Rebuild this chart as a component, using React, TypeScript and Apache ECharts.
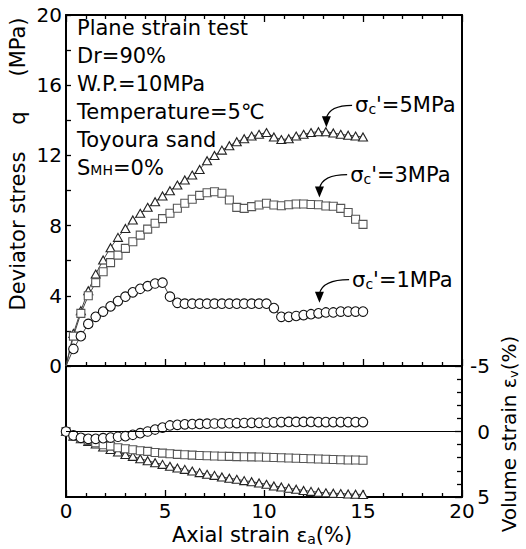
import React, { useEffect, useRef } from "react";
import * as echarts from "echarts";

// ---------- data ----------
const strain = [0, 0.375, 0.75, 1.125, 1.5, 1.875, 2.25, 2.625, 3, 3.375, 3.75, 4.125, 4.5, 4.875, 5.25, 5.625, 6, 6.375, 6.75, 7.125, 7.5, 7.875, 8.25, 8.625, 9, 9.375, 9.75, 10.125, 10.5, 10.875, 11.25, 11.625, 12, 12.375, 12.75, 13.125, 13.5, 13.875, 14.25, 14.625, 15];

const q1MPa = [0, 0.97, 1.7, 2.4, 2.8, 3.1, 3.4, 3.7, 3.95, 4.2, 4.4, 4.55, 4.7, 4.75, 3.95, 3.6, 3.55, 3.55, 3.55, 3.55, 3.55, 3.55, 3.55, 3.55, 3.55, 3.55, 3.55, 3.55, 3.3, 2.8, 2.8, 2.85, 2.9, 2.95, 3.0, 3.05, 3.05, 3.1, 3.1, 3.1, 3.1];
const q3MPa = [0, 1.7, 3.0, 4.0, 4.75, 5.37, 5.89, 6.32, 6.7, 7.08, 7.46, 7.8, 8.13, 8.4, 8.7, 8.99, 9.27, 9.5, 9.72, 9.87, 9.93, 9.84, 9.46, 9.04, 8.98, 9.08, 9.17, 9.27, 9.17, 9.13, 9.19, 9.23, 9.23, 9.2, 9.19, 9.12, 9.1, 8.98, 8.75, 8.36, 8.07];
const q5MPa = [0, 1.86, 3.15, 4.29, 5.24, 6.04, 6.74, 7.33, 7.84, 8.32, 8.7, 9.04, 9.36, 9.69, 9.99, 10.31, 10.6, 10.88, 11.2, 11.7, 12.0, 12.3, 12.55, 12.78, 12.95, 13.1, 13.2, 13.3, 13.05, 12.9, 12.95, 13.1, 13.2, 13.3, 13.35, 13.35, 13.28, 13.2, 13.15, 13.1, 13.05];

const ev1MPa = [0, 0.3, 0.48, 0.56, 0.56, 0.51, 0.46, 0.4, 0.36, 0.25, 0.13, 0, -0.15, -0.3, -0.46, -0.51, -0.55, -0.57, -0.58, -0.6, -0.61, -0.62, -0.63, -0.64, -0.65, -0.66, -0.66, -0.67, -0.7, -0.72, -0.73, -0.73, -0.73, -0.73, -0.72, -0.72, -0.72, -0.72, -0.72, -0.72, -0.72];
const ev3MPa = [0, 0.36, 0.51, 0.68, 0.86, 1.01, 1.12, 1.24, 1.32, 1.39, 1.47, 1.52, 1.6, 1.65, 1.7, 1.75, 1.78, 1.8, 1.83, 1.85, 1.87, 1.89, 1.9, 1.92, 1.93, 1.94, 1.95, 1.96, 1.98, 2.0, 2.02, 2.04, 2.06, 2.08, 2.1, 2.12, 2.14, 2.16, 2.17, 2.18, 2.2];
const ev5MPa = [0, 0.36, 0.56, 0.76, 0.96, 1.19, 1.37, 1.57, 1.75, 1.9, 2.08, 2.23, 2.38, 2.51, 2.66, 2.79, 2.89, 3.02, 3.14, 3.27, 3.35, 3.47, 3.57, 3.65, 3.75, 3.83, 3.93, 4.03, 4.16, 4.23, 4.33, 4.41, 4.5, 4.57, 4.63, 4.68, 4.71, 4.74, 4.77, 4.79, 4.81];

const confiningLabels = ["5MPa", "3MPa", "1MPa"];
const conditionLines = ["Plane strain test", "Dr=90%", "W.P.=10MPa", "Temperature=5℃", "Toyoura sand"];

// annotation anchors in data coordinates (text left, arrow tip)
const annTextAt = [[14.6, 14.85], [14.35, 10.9], [14.45, 4.92]];
const annTipAt = [[13.15, 13.6], [12.8, 9.6], [12.8, 3.6]];

// ---------- helpers ----------
const FAM = '"DejaVu Sans", sans-serif';
const measureCtx = typeof document !== "undefined" ? document.createElement("canvas").getContext("2d") : null;
function tw(t: string, size: number) {
  if (!measureCtx) return t.length * size * 0.6;
  measureCtx.font = `${size}px "DejaVu Sans"`;
  return measureCtx.measureText(t).width;
}
type Piece = { t: string; s: number; dy?: number };
function run(pieces: Piece[], x: number, y: number, anchor: "left" | "center" | "right" = "left", rotation = 0) {
  const widths = pieces.map((p) => tw(p.t, p.s));
  const total = widths.reduce((a, b) => a + b, 0);
  let cx = anchor === "left" ? 0 : anchor === "center" ? -total / 2 : -total;
  const children = pieces.map((p, i) => {
    const el = {
      type: "text",
      x: cx,
      y: p.dy || 0,
      style: {
        text: p.t,
        font: `${p.s}px ${FAM}`,
        fill: "#000",
        align: "left",
        verticalAlign: "middle",
        textAlign: "left",
        textVerticalAlign: "middle",
      },
    };
    cx += widths[i];
    return el;
  });
  return { type: "group", x, y, rotation, silent: true, children };
}

// top curves start at the origin without a visible marker
const pairs = (ys: number[], hideFirst: boolean) =>
  strain.map((x, i) => (hideFirst && i === 0 ? { value: [x, ys[i]], symbol: "none" } : [x, ys[i]]));

function series(name: string, ys: number[], symbol: string, size: any, border: string, xi: number, yi: number, hideFirst: boolean, extra: any = {}) {
  return {
    name,
    type: "line",
    xAxisIndex: xi,
    yAxisIndex: yi,
    data: pairs(ys, hideFirst),
    symbol,
    symbolSize: size,
    showSymbol: true,
    showAllSymbol: true,
    lineStyle: { color: "#444", width: 1 },
    itemStyle: { color: "#fff", borderColor: border, borderWidth: 1.1 },
    emphasis: { disabled: true },
    ...extra,
  };
}

const axisLine = { show: true, onZero: false, lineStyle: { color: "#000", width: 2 } };
const tickStyle = { color: "#000", width: 1.3 };

function buildOption() {
  const xBase = {
    type: "value",
    min: 0,
    max: 20,
    interval: 5,
    axisLine,
    splitLine: { show: false },
    axisTick: { show: true, inside: true, length: 7, lineStyle: tickStyle },
    minorTick: { show: true, splitNumber: 5, length: 4, lineStyle: tickStyle },
    axisLabel: { show: false },
  };
  return {
    animation: false,
    backgroundColor: "#fff",
    grid: [
      { left: 66, top: 15, width: 396, height: 351 },
      { left: 66, top: 366, width: 396, height: 131 },
    ],
    xAxis: [
      { ...xBase, gridIndex: 0, position: "bottom" },
      { ...xBase, gridIndex: 0, position: "top" },
      {
        ...xBase,
        gridIndex: 1,
        position: "bottom",
        axisLabel: { show: true, margin: 4, fontSize: 20, fontFamily: FAM, color: "#000" },
      },
    ],
    yAxis: [
      {
        type: "value",
        gridIndex: 0,
        position: "left",
        min: 0,
        max: 20,
        interval: 4,
        axisLine,
        splitLine: { show: false },
        axisTick: { show: true, inside: true, length: 5, lineStyle: tickStyle },
        minorTick: { show: true, splitNumber: 2, length: 5, lineStyle: tickStyle },
        axisLabel: { show: true, margin: 4, fontSize: 20, fontFamily: FAM, color: "#000" },
      },
      {
        type: "value",
        gridIndex: 0,
        position: "right",
        min: 0,
        max: 20,
        axisLine,
        splitLine: { show: false },
        axisTick: { show: false },
        axisLabel: { show: false },
      },
      {
        type: "value",
        gridIndex: 1,
        position: "left",
        min: -5,
        max: 5,
        inverse: true,
        axisLine,
        splitLine: { show: false },
        axisTick: { show: false },
        axisLabel: { show: false },
      },
      {
        type: "value",
        gridIndex: 1,
        position: "right",
        min: -5,
        max: 5,
        interval: 5,
        inverse: true,
        axisLine,
        splitLine: { show: false },
        axisTick: { show: true, inside: true, length: 7, lineStyle: tickStyle },
        minorTick: { show: true, splitNumber: 5, length: 5, lineStyle: tickStyle },
        axisLabel: { show: true, margin: 28, align: "right", fontSize: 20, fontFamily: FAM, color: "#000" },
      },
    ],
    series: [
      series("5MPa q", q5MPa, "triangle", [9, 8], "#222", 0, 0, true),
      series("3MPa q", q3MPa, "rect", 8, "#555", 0, 0, true),
      series("1MPa q", q1MPa, "circle", 9.5, "#111", 0, 0, true),
      series("5MPa ev", ev5MPa, "triangle", [9, 8], "#222", 2, 3, false),
      series("3MPa ev", ev3MPa, "rect", 8, "#555", 2, 3, false),
      series("1MPa ev", ev1MPa, "circle", 9.5, "#111", 2, 3, false, {
        markLine: {
          silent: true,
          symbol: "none",
          label: { show: false },
          lineStyle: { color: "#000", width: 1.2, type: "solid" },
          data: [{ yAxis: 0 }],
        },
      }),
    ],
  };
}

function buildGraphics(chart: any) {
  const g: any[] = [];
  // conditions block
  const lineY = [28, 55.5, 84, 111.5, 139.5];
  conditionLines.forEach((t, i) => g.push(run([{ t, s: 21 }], 77, lineY[i])));
  g.push(run([{ t: "S", s: 21 }, { t: "MH", s: 14, dy: 2.5 }, { t: "=0%", s: 21 }], 77, 167.5));

  // confining pressure annotations
  confiningLabels.forEach((lab, i) => {
    const p = chart.convertToPixel({ gridIndex: 0 }, annTextAt[i]);
    const tip = chart.convertToPixel({ gridIndex: 0 }, annTipAt[i]);
    g.push(run([{ t: "σ", s: 21 }, { t: "c", s: 14, dy: 4 }, { t: "'=" + lab, s: 21 }], p[0], p[1]));
    const sx = p[0] - 3;
    const sy = p[1];
    const ex = tip[0];
    const ey = tip[1] - 9;
    g.push({
      type: "bezierCurve",
      silent: true,
      shape: { x1: sx, y1: sy, x2: ex, y2: ey, cpx1: ex + 3, cpy1: sy },
      style: { stroke: "#000", lineWidth: 1.3, fill: null },
    });
    g.push({
      type: "polygon",
      silent: true,
      shape: { points: [[tip[0], tip[1]], [tip[0] - 4.5, tip[1] - 11], [tip[0] + 4.5, tip[1] - 11]] },
      style: { fill: "#000" },
    });
  });

  // axis titles
  g.push(run([{ t: "Axial strain ", s: 21 }, { t: "ε", s: 20 }, { t: "a", s: 14, dy: 4 }, { t: "(%)", s: 21 }], 262, 535, "center"));
  g.push(run([{ t: "Deviator stress", s: 21 }], 18, 231, "center", Math.PI / 2));
  g.push(run([{ t: "q", s: 21 }], 18, 118, "center", Math.PI / 2));
  g.push(run([{ t: "(MPa)", s: 21 }], 18, 47, "center", Math.PI / 2));
  g.push(run([{ t: "Volume strain ", s: 20 }, { t: "ε", s: 19 }, { t: "v", s: 13, dy: 4 }, { t: "(%)", s: 20 }], 509, 434, "center", Math.PI / 2));
  return g;
}

export default function App() {
  const ref = useRef<HTMLDivElement>(null);
  useEffect(() => {
    const chart = echarts.init(ref.current!, null, { renderer: "svg" });
    chart.setOption(buildOption() as any);
    chart.setOption({ graphic: buildGraphics(chart) } as any);
    return () => chart.dispose();
  }, []);
  return <div ref={ref} style={{ position: "fixed", left: 0, top: 0, width: 526, height: 549, background: "#fff" }} />;
}
